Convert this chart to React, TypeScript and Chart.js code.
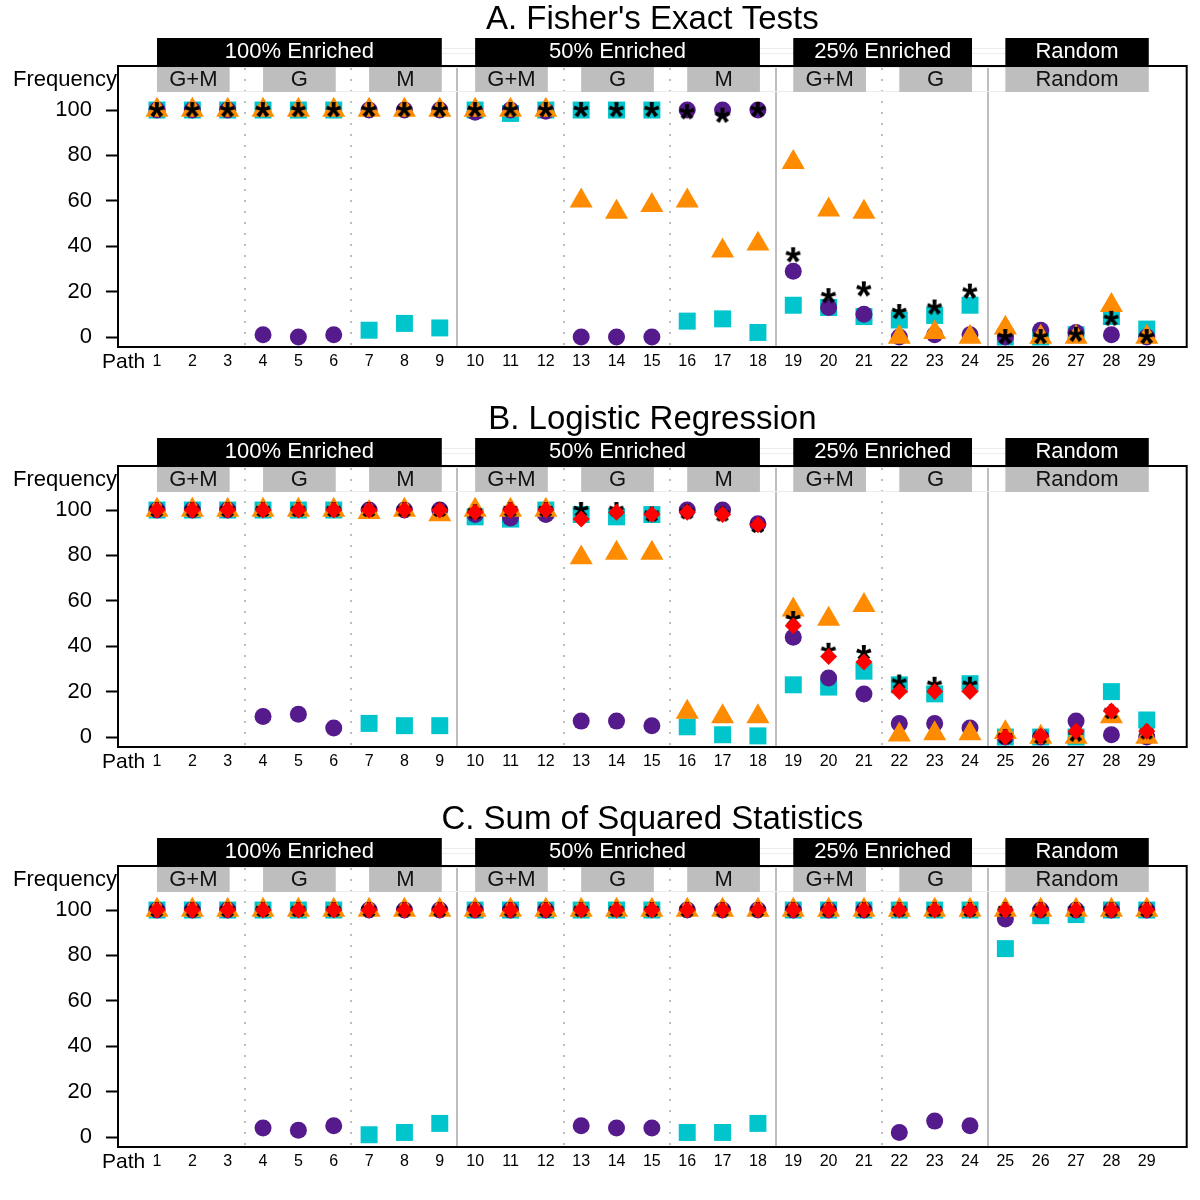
import React, { useEffect, useRef } from 'react';
import { Chart, registerables } from 'chart.js';

Chart.register(...registerables);

const FONT = '"Liberation Sans", Arial, Helvetica, sans-serif';

// ---------- categories / ticks ----------
const paths = [1, 2, 3, 4, 5, 6, 7, 8, 9, 10, 11, 12, 13, 14, 15, 16, 17, 18, 19, 20, 21, 22, 23, 24, 25, 26, 27, 28, 29];
const xTickLabels = ['1', '2', '3', '4', '5', '6', '7', '8', '9', '10', '11', '12', '13', '14', '15', '16', '17', '18', '19', '20', '21', '22', '23', '24', '25', '26', '27', '28', '29'];
const yTicks = [0, 20, 40, 60, 80, 100];

const groupLabels = ['100% Enriched', '50% Enriched', '25% Enriched', 'Random'];
const groupStart = [1, 10, 19, 25];
const groupEnd = [9, 18, 24, 29];
const subLabels = ['G+M', 'G', 'M', 'G+M', 'G', 'M', 'G+M', 'G', 'Random'];
const subStart = [1, 4, 7, 10, 13, 16, 19, 22, 25];
const subEnd = [3, 6, 9, 12, 15, 18, 21, 24, 29];
const solidBreaks = [9.5, 18.5, 24.5];
const dottedBreaks = [3.5, 6.5, 12.5, 15.5, 21.5];

const panelTitles = ["A. Fisher's Exact Tests", 'B. Logistic Regression', 'C. Sum of Squared Statistics'];

// ---------- Panel A: Fisher's exact tests ----------
const fisherCircle = [100, 100, 100, 1, 0, 1, 100, 100, 100, 99, 100, 99.5, 0, 0, 0, 100, 100, 100, 29, 13, 10, 0, 1, 1, 0, 3, 2, 1, 0];
const fisherSquare = [100, 100, 100, 100, 100, 100, 3, 6, 4, 100, 98.5, 100, 100, 100, 100, 7, 8, 2, 14, 13, 9, 7.5, 9.5, 14, 0, 0, 1, 9, 3.5];
const fisherTriangle = [100, 100, 100, 100, 100, 100, 100, 100, 100, 100, 100, 100, 60, 55, 58, 60, 38, 41, 77, 56, 55, 0, 2, 0, 4, 0, 0, 14, 0];
const fisherAsterisk = [100, 100, 100, 100, 100, 100, 100, 100, 100, 100, 100, 100, 100, 100, 100, 99, 97.5, 100, 36, 18, 21, 11, 13, 20, 0, 0, 1, 8, 0];

// ---------- Panel B: logistic regression ----------
const logitCircle = [100, 100, 100, 9, 10, 4, 100, 100, 100, 98, 96.5, 98, 7, 7, 5, 100, 100, 94, 44, 26, 19, 6, 6, 4, 0, 0, 7, 1, 0];
const logitSquare = [100, 100, 100, 100, 100, 100, 6, 5, 5, 97, 96, 100, 98, 97, 98, 4.5, 1, 0.5, 23, 22, 29, 23, 19, 23.5, 0, 0, 0, 20, 7.5];
const logitTriangle = [100, 100, 100, 100, 100, 100, 99, 100, 98, 100, 100, 100, 79, 81, 81, 11, 9, 9, 56, 52, 58, 1, 1.5, 1.5, 2, 0, 0, 9, 0];
const logitAsterisk = [100, 100, 100, 100, 100, 100, 100, 100, 100, 99, 100, 100, 100, 100, 98, 99, 98, 93, 52, 38, 37, 24, 23, 23, 0, 0, 1, 11, 2];
const logitDiamond = [100, 100, 100, 100, 100, 100, 100, 100, 100, 99, 100, 100, 96, 99, 98, 99, 98, 93.5, 49, 35.5, 33, 20, 20, 20, 0, 0.5, 2.5, 11.5, 2.5];

// ---------- Panel C: sum of squared statistics ----------
const sumCircle = [100, 100, 100, 4, 3, 5, 100, 100, 100, 100, 100, 100, 5, 4, 4, 100, 100, 100, 100, 100, 100, 2, 7, 5, 96, 100, 100, 100, 100];
const sumSquare = [100, 100, 100, 100, 100, 100, 1, 2, 6, 100, 100, 100, 100, 100, 100, 2, 2, 6, 100, 100, 100, 100, 100, 100, 83, 97.5, 98, 100, 100];
const sumTriangle = [100, 100, 100, 100, 100, 100, 100, 100, 100, 100, 100, 100, 100, 100, 100, 100, 100, 100, 100, 100, 100, 100, 100, 100, 100, 100, 100, 100, 100];
const sumAsterisk = [100, 100, 100, 100, 100, 100, 100, 100, 100, 100, 100, 100, 100, 100, 100, 100, 100, 100, 100, 100, 100, 100, 100, 100, 100, 100, 100, 100, 100];
const sumDiamond = [100, 100, 100, 100, 100, 100, 100, 100, 100, 100, 100, 100, 100, 100, 100, 100, 100, 100, 100, 100, 100, 100, 100, 100, 100, 100, 100, 100, 100];

const PURPLE = '#551A8B';
const CYAN = '#00C5CD';
const ORANGE = '#FF8C00';
const RED = '#FF0000';
const GRAY = '#BEBEBE';

function makeAsterisk(): HTMLCanvasElement {
  const size = 28;
  const c = document.createElement('canvas');
  c.width = size;
  c.height = size;
  const g = c.getContext('2d')!;
  g.font = `bold 40px ${FONT}`;
  g.textAlign = 'left';
  g.textBaseline = 'alphabetic';
  const m = g.measureText('*');
  const w = m.actualBoundingBoxLeft + m.actualBoundingBoxRight;
  const h = m.actualBoundingBoxAscent + m.actualBoundingBoxDescent;
  g.fillStyle = '#000';
  g.fillText('*', (size - w) / 2 + m.actualBoundingBoxLeft, (size - h) / 2 + m.actualBoundingBoxAscent);
  return c;
}

function makeDataset(label: string, values: number[] | null, style: any, color: string, radius: number, order: number) {
  return {
    label,
    data: (values || []).map((v, i) => ({ x: paths[i], y: v })),
    pointStyle: style,
    pointRadius: radius,
    pointHoverRadius: radius,
    backgroundColor: color,
    borderColor: color,
    pointBorderWidth: 0,
    borderWidth: 0,
    showLine: false,
    order,
    clip: false as any,
  };
}

function decorPlugin(title: string) {
  return {
    id: 'decor',
    beforeDatasetsDraw(chart: any) {
      const { ctx, chartArea: a } = chart;
      const x = chart.scales.x;
      ctx.save();
      // separators
      ctx.strokeStyle = GRAY;
      ctx.lineWidth = 2;
      solidBreaks.forEach((v) => {
        const px = Math.round(x.getPixelForValue(v));
        ctx.beginPath();
        ctx.moveTo(px, a.top);
        ctx.lineTo(px, a.bottom);
        ctx.stroke();
      });
      ctx.setLineDash([2, 9]);
      dottedBreaks.forEach((v) => {
        const px = Math.round(x.getPixelForValue(v));
        ctx.beginPath();
        ctx.moveTo(px, a.top + 2);
        ctx.lineTo(px, a.bottom);
        ctx.stroke();
      });
      ctx.setLineDash([]);
      // faint strip lines for the grey row
      const x0 = x.getPixelForValue(subStart[0]);
      const x1 = x.getPixelForValue(subEnd[subEnd.length - 1]) + 1;
      ctx.strokeStyle = '#ececec';
      ctx.lineWidth = 1;
      [a.top + 1.5, a.top + 25.5].forEach((yy) => {
        ctx.beginPath();
        ctx.moveTo(x0, yy);
        ctx.lineTo(x1, yy);
        ctx.stroke();
      });
      // grey subgroup boxes
      ctx.font = `22px ${FONT}`;
      ctx.textAlign = 'center';
      ctx.textBaseline = 'alphabetic';
      subLabels.forEach((lab, i) => {
        const l = x.getPixelForValue(subStart[i]);
        const r = x.getPixelForValue(subEnd[i]) + 2;
        ctx.fillStyle = GRAY;
        ctx.fillRect(l, a.top + 1, r - l, 25);
        ctx.fillStyle = '#111';
        ctx.fillText(lab, (l + r) / 2, a.top + 19.5);
      });
      ctx.restore();
    },
    afterDraw(chart: any) {
      const { ctx, chartArea: a } = chart;
      const x = chart.scales.x;
      ctx.save();
      // faint strip lines for the black row
      const x0 = x.getPixelForValue(groupStart[0]);
      const x1 = x.getPixelForValue(groupEnd[groupEnd.length - 1]) + 1;
      ctx.strokeStyle = '#ececec';
      ctx.lineWidth = 1;
      [a.top - 17.5, a.top - 12.5].forEach((yy) => {
        ctx.beginPath();
        ctx.moveTo(x0, yy);
        ctx.lineTo(x1, yy);
        ctx.stroke();
      });
      // black group boxes
      ctx.font = `22px ${FONT}`;
      ctx.textAlign = 'center';
      ctx.textBaseline = 'alphabetic';
      groupLabels.forEach((lab, i) => {
        const l = x.getPixelForValue(groupStart[i]);
        const r = x.getPixelForValue(groupEnd[i]) + 2;
        ctx.fillStyle = '#000';
        ctx.fillRect(l, a.top - 28, r - l, 27);
        ctx.fillStyle = '#fff';
        ctx.fillText(lab, (l + r) / 2, a.top - 8.5);
      });
      // frame
      ctx.strokeStyle = '#000';
      ctx.lineWidth = 2;
      ctx.strokeRect(a.left, a.top, a.right - a.left, a.bottom - a.top);
      // title
      ctx.fillStyle = '#000';
      ctx.font = `33px ${FONT}`;
      ctx.textAlign = 'center';
      ctx.fillText(title, (a.left + a.right) / 2, 29);
      // Frequency label
      ctx.font = `22px ${FONT}`;
      ctx.textAlign = 'right';
      ctx.fillText('Frequency', a.left - 1, a.top + 19.5);
      // Path label at position 0
      ctx.font = `21px ${FONT}`;
      ctx.textAlign = 'center';
      ctx.fillText('Path', x.getPixelForValue(0) + 2, a.bottom + 21);
      ctx.restore();
    },
  };
}

type PanelProps = {
  title: string;
  circle: number[];
  square: number[];
  triangle: number[];
  asterisk: number[];
  diamond: number[] | null;
};

function Panel({ title, circle, square, triangle, asterisk, diamond }: PanelProps) {
  const ref = useRef<HTMLCanvasElement | null>(null);
  useEffect(() => {
    if (!ref.current) return;
    const star = makeAsterisk();
    const datasets: any[] = [
      makeDataset('Square', square, 'rect', CYAN, 12, 5),
      makeDataset('Circle', circle, 'circle', PURPLE, 8.5, 4),
      makeDataset('Triangle', triangle, 'triangle', ORANGE, 13.3, 3),
      makeDataset('Asterisk', asterisk, star, '#000', 8, 2),
    ];
    if (diamond) datasets.push(makeDataset('Diamond', diamond, 'rectRot', RED, 8.5, 1));
    const chart = new Chart(ref.current, {
      type: 'scatter',
      data: { datasets },
      options: {
        animation: false,
        responsive: false,
        devicePixelRatio: 1,
        layout: { padding: { top: 66, right: 13, left: 0, bottom: 0 } },
        plugins: { legend: { display: false }, tooltip: { enabled: false }, title: { display: false } },
        scales: {
          x: {
            type: 'linear',
            min: -0.103,
            max: 30.13,
            afterBuildTicks: (s: any) => {
              s.ticks = paths.map((v) => ({ value: v }));
            },
            afterFit: (s: any) => {
              s.height = 53;
            },
            grid: { display: false, drawTicks: false },
            border: { display: false },
            ticks: {
              autoSkip: false,
              maxRotation: 0,
              padding: 5,
              color: '#000',
              font: { family: FONT, size: 16 },
              callback: (_v: any, i: number) => xTickLabels[i],
            },
          },
          y: {
            type: 'linear',
            min: -4.4,
            max: 119.4,
            afterBuildTicks: (s: any) => {
              s.ticks = yTicks.map((v) => ({ value: v }));
            },
            afterFit: (s: any) => {
              s.width = 118;
            },
            grid: {
              display: true,
              drawOnChartArea: false,
              drawTicks: true,
              tickLength: 12,
              tickWidth: 2,
              tickColor: '#000',
              color: '#000',
            },
            border: { display: false },
            ticks: { padding: 14, color: '#000', font: { family: FONT, size: 22 } },
          },
        },
      } as any,
      plugins: [decorPlugin(title)],
    });
    return () => chart.destroy();
  }, [title, circle, square, triangle, asterisk, diamond]);
  return <canvas ref={ref} width={1200} height={400} style={{ display: 'block', width: 1200, height: 400 }} />;
}

export default function App() {
  return (
    <div style={{ position: 'absolute', left: 0, top: 0, width: 1200, height: 1200, background: '#fff' }}>
      <Panel title={panelTitles[0]} circle={fisherCircle} square={fisherSquare} triangle={fisherTriangle} asterisk={fisherAsterisk} diamond={null} />
      <Panel title={panelTitles[1]} circle={logitCircle} square={logitSquare} triangle={logitTriangle} asterisk={logitAsterisk} diamond={logitDiamond} />
      <Panel title={panelTitles[2]} circle={sumCircle} square={sumSquare} triangle={sumTriangle} asterisk={sumAsterisk} diamond={sumDiamond} />
    </div>
  );
}
